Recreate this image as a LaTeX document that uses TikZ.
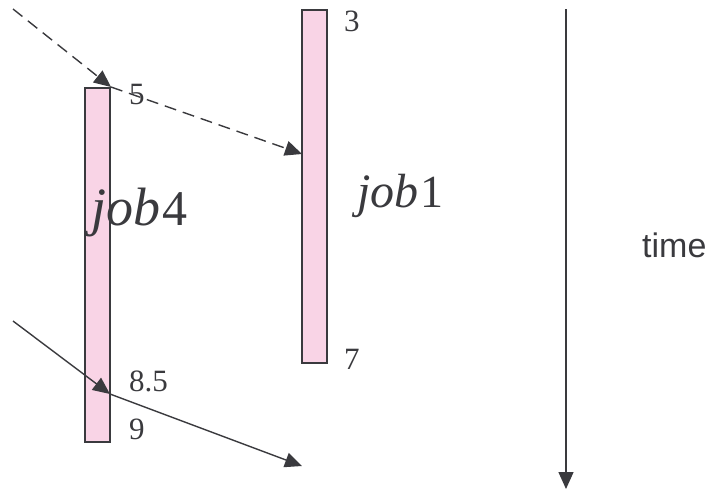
\documentclass[tikz,border=0pt]{standalone}
\usepackage{fontspec}
\setmainfont{Liberation Serif}
\newfontfamily\labelsans{Liberation Sans}
\usepackage{xcolor}
\definecolor{barpink}{HTML}{F9D4E6}
\definecolor{inkgray}{HTML}{3A3A3E}
\usepackage{tikz}
\usetikzlibrary{arrows.meta}

\tikzset{
  jobbar/.style={draw=inkgray, fill=barpink, line width=2pt, rectangle,
    inner sep=0pt, minimum width=25pt},
  jobname/.style={text=inkgray, anchor=base west, inner sep=0pt},
  tick/.style={text=inkgray, anchor=west, inner sep=0pt,
    font=\fontsize{31}{31}\selectfont},
  msg/.style={draw=inkgray, line width=1.4pt, -{Triangle[length=17pt,width=15pt]}},
}

\begin{document}
\begin{tikzpicture}[x=1pt,y=-1pt]
  \useasboundingbox (0,0) rectangle (723,491);
  % the two jobs
  \node[jobbar, minimum height=354pt] (job4) at (97.5,265) {};
  \node[jobbar, minimum height=353pt] (job1) at (314.5,186.5) {};
  \node[jobname] (name4) at (91,225)
    {\fontsize{54}{54}\selectfont\textit{job}\kern2pt\fontsize{50}{50}\selectfont 4};
  \node[jobname] (name1) at (357,207)
    {\fontsize{48}{48}\selectfont\textit{job}\kern2pt\fontsize{46}{46}\selectfont 1};
  % instants
  \node[tick] (t3) at (344,21) {3};
  \node[tick] (t5) at (129,94) {5};
  \node[tick] (t7) at (344,359) {7};
  \node[tick] (t85) at (129,381) {8.5};
  \node[tick] (t9) at (129,429) {9};
  % messages
  \coordinate (d1) at (13,9);
  \coordinate (d2) at (302,154);
  \coordinate (s1) at (13,321);
  \coordinate (s2) at (110,394);
  \coordinate (s3) at (302,466);
  \draw[msg, dash pattern=on 12pt off 7pt] (d1) -- (job4.north east);
  \draw[msg, dash pattern=on 12pt off 7pt] (job4.north east) -- (d2);
  \draw[msg] (s1) -- (s2);
  \draw[msg] (s2) -- (s3);
  % time axis
  \coordinate (top) at (566,9);
  \coordinate (bot) at (566,489);
  \draw[msg] (top) -- (bot);
  \node[text=inkgray, anchor=base west, inner sep=0pt,
    font=\labelsans\fontsize{34}{34}\selectfont] (tm) at (642,257) {time};
\end{tikzpicture}
\end{document}
